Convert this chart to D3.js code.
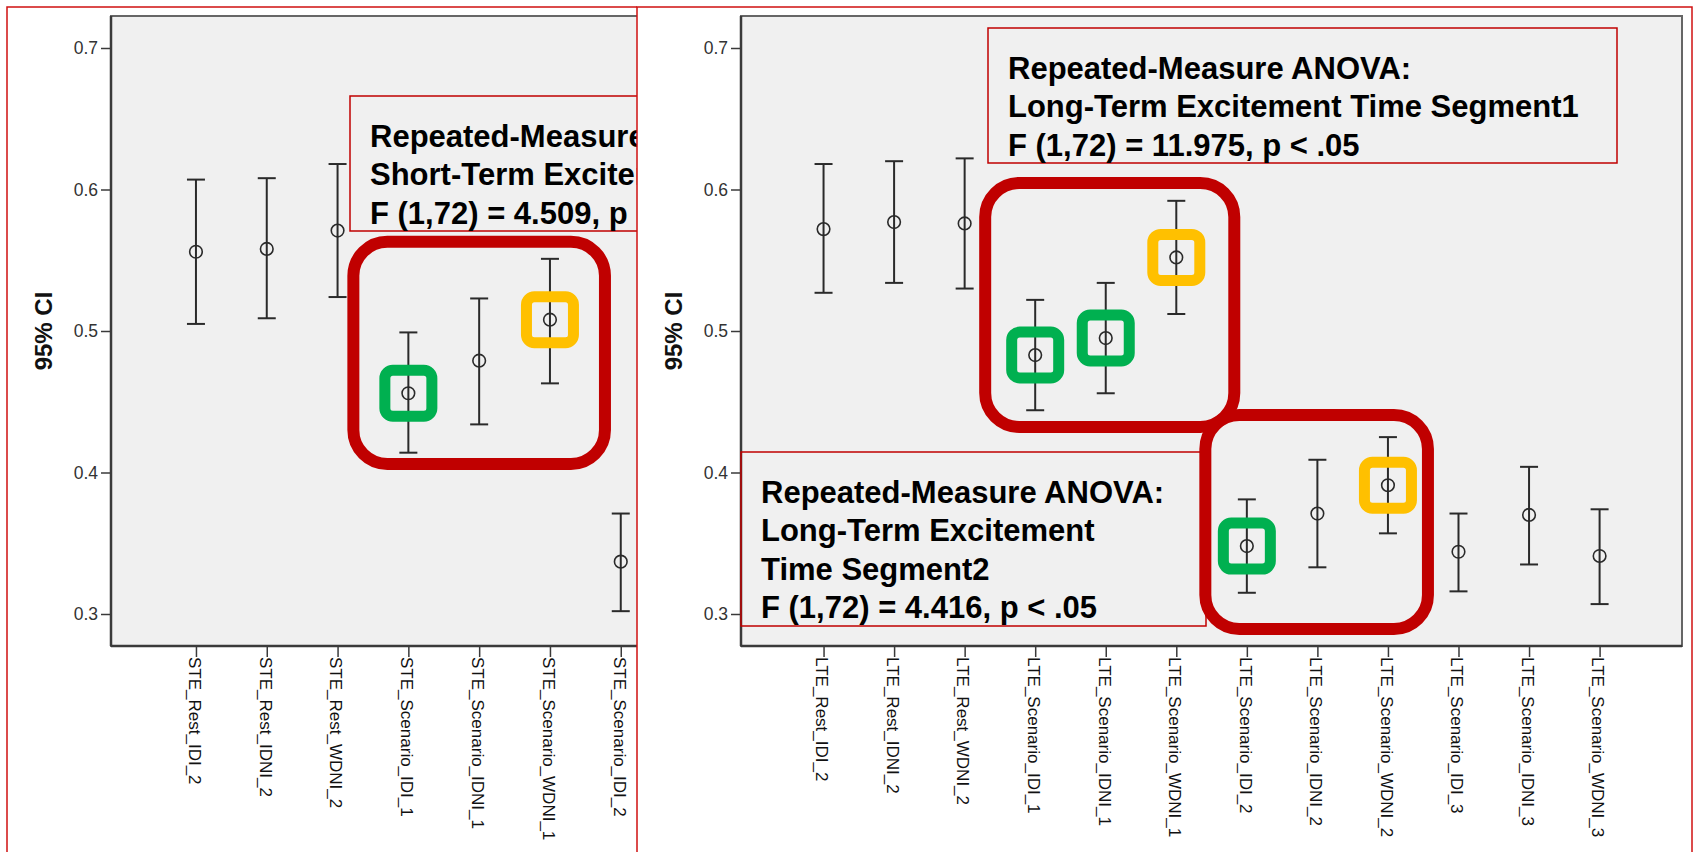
<!DOCTYPE html>
<html>
<head>
<meta charset="utf-8">
<script src="https://cdn.jsdelivr.net/npm/d3@7"></script>
<style>
  body { margin: 0; background: #fff; }
  svg { display: block; }
  text { font-family: "Liberation Sans", Arial, sans-serif; }
</style>
</head>
<body>
<svg id="chart" width="1698" height="852"></svg>
<script>
// ---- Short-term excitement (STE): mean with 95% CI ----
const steCategories = ["STE_Rest_IDI_2", "STE_Rest_IDNI_2", "STE_Rest_WDNI_2",
  "STE_Scenario_IDI_1", "STE_Scenario_IDNI_1", "STE_Scenario_WDNI_1", "STE_Scenario_IDI_2"];
const steMean  = [0.556, 0.558, 0.571, 0.456, 0.479, 0.508, 0.337];
const steLower = [0.505, 0.509, 0.524, 0.414, 0.434, 0.463, 0.302];
const steUpper = [0.607, 0.608, 0.618, 0.499, 0.523, 0.551, 0.371];

// ---- Long-term excitement (LTE): mean with 95% CI ----
const lteCategories = ["LTE_Rest_IDI_2", "LTE_Rest_IDNI_2", "LTE_Rest_WDNI_2",
  "LTE_Scenario_IDI_1", "LTE_Scenario_IDNI_1", "LTE_Scenario_WDNI_1",
  "LTE_Scenario_IDI_2", "LTE_Scenario_IDNI_2", "LTE_Scenario_WDNI_2",
  "LTE_Scenario_IDI_3", "LTE_Scenario_IDNI_3", "LTE_Scenario_WDNI_3"];
const lteMean  = [0.572, 0.577, 0.576, 0.483, 0.495, 0.552, 0.348, 0.371, 0.391, 0.344, 0.370, 0.341];
const lteLower = [0.527, 0.534, 0.530, 0.444, 0.456, 0.512, 0.315, 0.333, 0.357, 0.316, 0.335, 0.307];
const lteUpper = [0.618, 0.620, 0.622, 0.522, 0.534, 0.592, 0.381, 0.409, 0.425, 0.371, 0.404, 0.374];

const yTicks = [0.3, 0.4, 0.5, 0.6, 0.7];
const yTitle = "95% CI";

// ANOVA result boxes
const steAnova = ["Repeated-Measure ANOVA:", "Short-Term Excitement", "F (1,72) = 4.509, p < .05"];
const lteAnova1 = ["Repeated-Measure ANOVA:", "Long-Term Excitement Time Segment1", "F (1,72) = 11.975, p < .05"];
const lteAnova2 = ["Repeated-Measure ANOVA:", "Long-Term Excitement", "Time Segment2", "F (1,72) = 4.416, p < .05"];

const RED = "#c00000", GREEN = "#00b050", YELLOW = "#ffc000";
const svg = d3.select("#chart");

svg.append("defs").append("clipPath").attr("id", "leftClip")
  .append("rect").attr("x", 0).attr("y", 0).attr("width", 637).attr("height", 852);

function drawPanel(g, cfg) {
  const { frameX, frameW, cats, mean, lower, upper, step, pad } = cfg;
  const top = 16, bottom = 646;

  // outer red panel border
  g.append("rect").attr("x", cfg.boxX).attr("y", 7)
    .attr("width", cfg.boxW).attr("height", 900)
    .attr("fill", "#fff").attr("stroke", "#d01010").attr("stroke-width", 1.5);

  const y = d3.scaleLinear().domain([0.3, 0.7]).range([614, 48]);
  const x = d3.scalePoint().domain(cats)
    .range([frameX, frameX + step * (cats.length - 1 + 2 * pad)]).padding(pad);

  // plot area
  g.append("rect").attr("x", frameX).attr("y", top)
    .attr("width", frameW).attr("height", bottom - top)
    .attr("fill", "#f0f0f0").attr("stroke", "#666").attr("stroke-width", 2);

  // y axis
  const ya = g.append("g").attr("transform", `translate(${frameX},0)`)
    .call(d3.axisLeft(y).tickValues(yTicks).tickSize(10).tickPadding(3).tickFormat(d3.format(".1f")));
  ya.select(".domain").attr("stroke", "#3a3a3a").attr("stroke-width", 2.5)
    .attr("d", `M0,${top}V${bottom}`);
  ya.selectAll(".tick line").attr("stroke", "#3a3a3a").attr("stroke-width", 1.5);
  ya.selectAll(".tick text").attr("font-size", 17.5).attr("fill", "#333")
    .attr("font-family", "'Liberation Sans', Arial, sans-serif");

  // x axis with vertical labels
  const xa = g.append("g").attr("transform", `translate(0,${bottom})`)
    .call(d3.axisBottom(x).tickSize(11));
  xa.select(".domain").attr("stroke", "#3a3a3a").attr("stroke-width", 2.5)
    .attr("d", `M${frameX},0H${frameX + frameW}`);
  xa.selectAll(".tick line").attr("stroke", "#3a3a3a").attr("stroke-width", 1.5);
  xa.selectAll(".tick text")
    .attr("transform", "rotate(90)")
    .attr("x", 11).attr("y", 0).attr("dy", "0.45em")
    .attr("text-anchor", "start")
    .attr("font-size", 17).attr("fill", "#111")
    .attr("font-family", "'Liberation Sans', Arial, sans-serif");

  // y title
  g.append("text")
    .attr("transform", `translate(${frameX - 67},331) rotate(-90)`)
    .attr("text-anchor", "middle").attr("dy", "0.35em")
    .attr("font-size", 24).attr("font-weight", "bold").attr("fill", "#111")
    .text(yTitle);

  // ANOVA boxes
  cfg.boxes.forEach(b => {
    g.append("rect").attr("x", b.x).attr("y", b.y).attr("width", b.w).attr("height", b.h)
      .attr("fill", "none").attr("stroke", RED).attr("stroke-width", 1.5);
    const t = g.append("text").attr("font-size", 31).attr("font-weight", "bold").attr("fill", "#000");
    b.lines.forEach((ln, i) => {
      t.append("tspan").attr("x", b.x + 20).attr("y", b.y + 51 + i * 38.3).text(ln);
    });
  });

  // error bars with mean markers
  const idx = d3.range(cats.length);
  const bars = g.append("g").attr("stroke", "#2a2a2a").attr("stroke-width", 2).attr("fill", "none");
  idx.forEach(i => {
    const cx = x(cats[i]);
    bars.append("line").attr("x1", cx).attr("x2", cx).attr("y1", y(upper[i])).attr("y2", y(lower[i]));
    bars.append("line").attr("x1", cx - 9).attr("x2", cx + 9).attr("y1", y(upper[i])).attr("y2", y(upper[i]));
    bars.append("line").attr("x1", cx - 9).attr("x2", cx + 9).attr("y1", y(lower[i])).attr("y2", y(lower[i]));
    bars.append("circle").attr("cx", cx).attr("cy", y(mean[i])).attr("r", 6.3).attr("stroke-width", 1.6);
  });

  // grouped highlight frames
  cfg.groups.forEach(gr => {
    const x0 = x(cats[gr.from]) - gr.padL, x1 = x(cats[gr.to]) + gr.padR;
    const y0 = y(gr.hi), y1 = y(gr.lo);
    g.append("rect").attr("x", x0).attr("y", y0).attr("width", x1 - x0).attr("height", y1 - y0)
      .attr("rx", 34).attr("ry", 34)
      .attr("fill", "none").attr("stroke", RED).attr("stroke-width", 12);
  });

  // per-condition markers
  cfg.marks.forEach(m => {
    const cx = x(cats[m.i]), cy = y(mean[m.i]);
    g.append("rect").attr("x", cx - 23.5).attr("y", cy - 23).attr("width", 47).attr("height", 46)
      .attr("rx", 8).attr("ry", 8)
      .attr("fill", "none").attr("stroke", m.color).attr("stroke-width", 11);
  });
}

// left panel (partly covered by the right one)
const left = svg.append("g").attr("clip-path", "url(#leftClip)");
drawPanel(left, {
  boxX: 7, boxW: 1100, frameX: 111, frameW: 941, step: 70.8, pad: 1.2,
  cats: steCategories, mean: steMean, lower: steLower, upper: steUpper,
  boxes: [{ x: 350, y: 96, w: 450, h: 135, lines: steAnova }],
  groups: [{ from: 3, to: 5, padL: 55, padR: 55, hi: 0.563, lo: 0.406 }],
  marks: [{ i: 3, color: GREEN }, { i: 5, color: YELLOW }]
});

// right panel
const right = svg.append("g");
drawPanel(right, {
  boxX: 637, boxW: 1055, frameX: 741, frameW: 941, step: 70.55, pad: 1.17,
  cats: lteCategories, mean: lteMean, lower: lteLower, upper: lteUpper,
  boxes: [
    { x: 988, y: 28, w: 629, h: 135, lines: lteAnova1 },
    { x: 741, y: 452, w: 465, h: 174, lines: lteAnova2 }
  ],
  groups: [
    { from: 3, to: 5, padL: 50, padR: 58, hi: 0.6046, lo: 0.4322 },
    { from: 6, to: 8, padL: 41.5, padR: 40, hi: 0.4406, lo: 0.2894 }
  ],
  marks: [
    { i: 3, color: GREEN }, { i: 4, color: GREEN }, { i: 5, color: YELLOW },
    { i: 6, color: GREEN }, { i: 8, color: YELLOW }
  ]
});
</script>
</body>
</html>
